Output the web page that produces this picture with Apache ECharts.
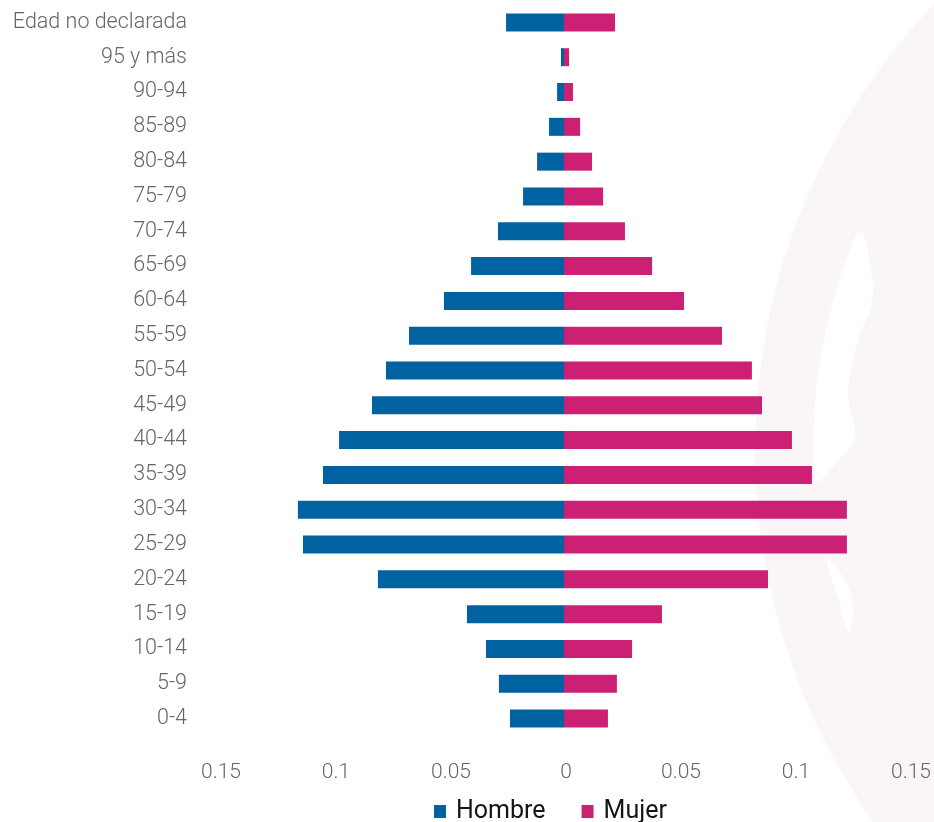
<!DOCTYPE html>
<html>
<head>
<meta charset="utf-8">
<script src="https://cdn.jsdelivr.net/npm/echarts@6/dist/echarts.min.js"></script>
<style>
  html, body { margin: 0; padding: 0; background: #fff; }
  #chart { width: 934px; height: 822px; }
</style>
</head>
<body>
<div id="chart"></div>
<script>
// grupos de edad, de arriba hacia abajo
const edades = ['Edad no declarada', '95 y más', '90-94', '85-89', '80-84', '75-79', '70-74',
  '65-69', '60-64', '55-59', '50-54', '45-49', '40-44', '35-39', '30-34', '25-29',
  '20-24', '15-19', '10-14', '5-9', '0-4']
const hombre = [0.0252, 0.0013, 0.003, 0.0065, 0.0117, 0.0178, 0.0287,
  0.0404, 0.0522, 0.0674, 0.0774, 0.0835, 0.0978, 0.1048, 0.1157, 0.1135,
  0.0809, 0.0422, 0.0339, 0.0283, 0.0235]
const mujer = [0.0222, 0.0022, 0.0039, 0.007, 0.0122, 0.017, 0.0265,
  0.0383, 0.0522, 0.0687, 0.0817, 0.0861, 0.0991, 0.1078, 0.123, 0.123,
  0.0887, 0.0426, 0.0296, 0.023, 0.0191]
const ticks = [-0.15, -0.1, -0.05, 0, 0.05, 0.1, 0.15]

const colHombre = '#0062a0'
const colMujer = '#cc2075'
const fontFam = 'Roboto, "Noto Sans", sans-serif'

const dom = document.getElementById('chart')
const chart = echarts.init(dom)

let option = {
  animation: false,
  // marca de agua de fondo
  graphic: [
    {
      type: 'circle',
      z: -10,
      shape: { cx: 1400, cy: 450, r: 645 },
      style: { fill: '#faf6f8' }
    },
    {
      type: 'polygon',
      z: -9,
      shape: {
        points: [[860, 231], [870, 262], [872, 302], [858, 340], [848, 392], [855, 439], [840, 458], [817, 481], [814, 430], [820, 360], [838, 285]],
        smooth: 0.35
      },
      style: { fill: '#ffffff' }
    },
    {
      type: 'polygon',
      z: -9,
      shape: {
        points: [[827, 559], [845, 580], [853, 606], [849, 632], [838, 598]],
        smooth: 0.35
      },
      style: { fill: '#ffffff' }
    }
  ],
  legend: {
    left: 429,
    top: 794,
    icon: 'rect',
    itemWidth: 12,
    itemHeight: 13,
    itemGap: 36,
    textStyle: { fontFamily: fontFam, fontSize: 25, color: '#151515', padding: [0, 0, 0, 5] },
    data: ['Hombre', 'Mujer']
  },
  grid: { left: 219, right: 25, top: 5, bottom: 86 },
  xAxis: {
    type: 'value',
    min: ticks[0],
    max: ticks[ticks.length - 1],
    interval: 0.05,
    axisLine: { show: false },
    axisTick: { show: false },
    splitLine: { show: false },
    axisLabel: {
      margin: 26,
      padding: [0, 0, 0, 4],
      fontFamily: fontFam,
      fontWeight: 300,
      fontSize: 21,
      color: '#666',
      formatter: v => String(Math.round(Math.abs(v) * 100) / 100)
    }
  },
  yAxis: {
    type: 'category',
    inverse: true,
    data: edades,
    axisLine: { show: false },
    axisTick: { show: false },
    axisLabel: {
      margin: 32,
      fontFamily: fontFam,
      fontWeight: 300,
      fontSize: 21.5,
      color: '#666',
      padding: [4, 0, 0, 0]
    }
  },
  series: [
    {
      name: 'Hombre',
      type: 'bar',
      stack: 'total',
      barWidth: 18,
      itemStyle: { color: colHombre },
      data: hombre.map(v => -v)
    },
    {
      name: 'Mujer',
      type: 'bar',
      stack: 'total',
      barWidth: 18,
      itemStyle: { color: colMujer },
      data: mujer
    }
  ]
}

chart.setOption(option)
window.addEventListener('resize', () => chart.resize())
</script>
</body>
</html>
